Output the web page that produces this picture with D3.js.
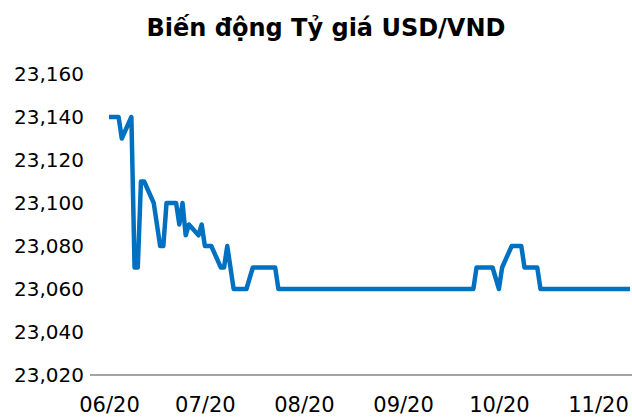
<!DOCTYPE html>
<html>
<head>
<meta charset="utf-8">
<script src="https://cdn.jsdelivr.net/npm/d3@7"></script>
<style>
  body { margin: 0; background: #fff; }
  text { font-family: "DejaVu Sans", Verdana, sans-serif; fill: #000; }
</style>
</head>
<body>
<script>
var svgWidth = 632;
var svgHeight = 419;

// vertices of the USD/VND line (dates where the rate changes)
var dates = [
  "2020-06-01", "2020-06-04", "2020-06-05", "2020-06-08", "2020-06-09", "2020-06-10",
  "2020-06-11", "2020-06-12", "2020-06-15", "2020-06-17", "2020-06-18", "2020-06-19",
  "2020-06-22", "2020-06-23", "2020-06-24", "2020-06-25", "2020-06-26", "2020-06-29",
  "2020-06-30", "2020-07-01", "2020-07-03", "2020-07-06", "2020-07-07", "2020-07-08",
  "2020-07-10", "2020-07-14", "2020-07-16", "2020-07-23", "2020-07-24", "2020-09-23",
  "2020-09-24", "2020-09-29", "2020-10-01", "2020-10-02", "2020-10-05", "2020-10-08",
  "2020-10-09", "2020-10-13", "2020-10-14", "2020-11-11"
];
var rates = [
  23140, 23140, 23130, 23140, 23070, 23070,
  23110, 23110, 23100, 23080, 23080, 23100,
  23100, 23090, 23100, 23085, 23090, 23085,
  23090, 23080, 23080, 23070, 23070, 23080,
  23060, 23060, 23070, 23070, 23060, 23060,
  23070, 23070, 23060, 23070, 23080, 23080,
  23070, 23070, 23060, 23060
];
var yTicks = [23020, 23040, 23060, 23080, 23100, 23120, 23140, 23160];
var xTicks = ["2020-06-01", "2020-07-01", "2020-08-01", "2020-09-01", "2020-10-01", "2020-11-01"];

var parseDate = d3.timeParse("%Y-%m-%d");
var data = dates.map((d, i) => ({ date: parseDate(d), rate: rates[i] }));

var svg = d3.select("body")
  .append("svg")
  .attr("width", svgWidth)
  .attr("height", svgHeight);

// scales
var xScale = d3.scaleTime()
  .domain([parseDate("2020-06-01"), parseDate("2020-11-01")])
  .range([109, 598]);

var yScale = d3.scaleLinear()
  .domain([23020, 23160])
  .range([375, 74]);

// title
svg.append("text")
  .attr("x", 326)
  .attr("y", 36)
  .attr("text-anchor", "middle")
  .attr("font-size", 24)
  .attr("font-weight", "bold")
  .text("Biến động Tỷ giá USD/VND");

// y axis (labels only)
var leftAxis = d3.axisLeft(yScale)
  .tickValues(yTicks)
  .tickFormat(d3.format(","))
  .tickSize(0)
  .tickPadding(0);

var yAxisG = svg.append("g")
  .attr("transform", "translate(84,0)")
  .call(leftAxis);
yAxisG.select(".domain").remove();
yAxisG.selectAll("text")
  .attr("font-size", 20)
  .attr("font-family", "DejaVu Sans Condensed, DejaVu Sans, sans-serif");

// x axis
var bottomAxis = d3.axisBottom(xScale)
  .tickValues(xTicks.map(parseDate))
  .tickFormat(d3.timeFormat("%m/%y"))
  .tickSize(0)
  .tickPadding(22);

var xAxisG = svg.append("g")
  .attr("transform", "translate(0,375)")
  .call(bottomAxis);
xAxisG.select(".domain").remove();
xAxisG.selectAll("text")
  .attr("font-size", 21)
  .attr("font-family", "DejaVu Sans Condensed, DejaVu Sans, sans-serif");

svg.append("line")
  .attr("x1", 90)
  .attr("x2", 632)
  .attr("y1", yScale(23020))
  .attr("y2", yScale(23020))
  .attr("stroke", "#868686")
  .attr("stroke-width", 1.5);

// the rate line
var line = d3.line()
  .x(d => xScale(d.date))
  .y(d => yScale(d.rate));

svg.append("path")
  .datum(data)
  .attr("d", line)
  .attr("fill", "none")
  .attr("stroke", "#0070C0")
  .attr("stroke-width", 4.5)
  .attr("stroke-linejoin", "round");
</script>
</body>
</html>
